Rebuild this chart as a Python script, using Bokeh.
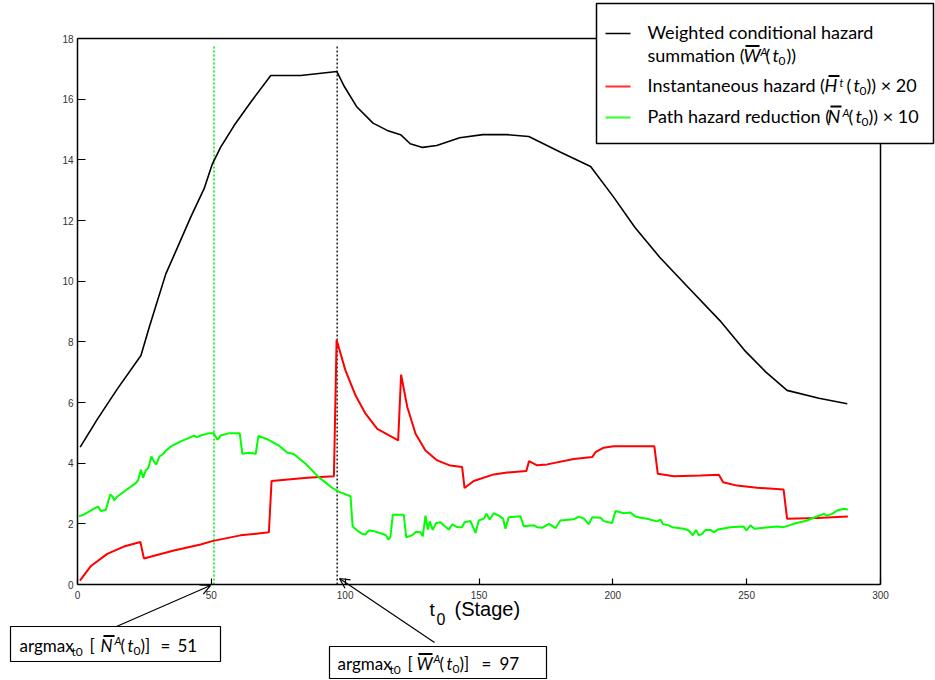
from bokeh.plotting import figure
from bokeh.models import Range1d, FixedTicker, Label, BoxAnnotation, Arrow, OpenHead, LinearAxis
from bokeh.embed import file_html
from bokeh.resources import INLINE

# ---------------- data ----------------
x_ticks = [0, 50, 100, 150, 200, 250, 300]
y_ticks = [0, 2, 4, 6, 8, 10, 12, 14, 16, 18]

# Weighted conditional hazard summation W^A(t0)
w_stage = [1, 7.5, 14.9, 23.7, 26.8, 29.9, 33, 37.4, 42.3, 47.3, 50.4, 53.5, 58.5, 64.7,
           72.2, 83.4, 96.9, 99.8, 104.4, 110.4, 115.7, 120.7, 124.3, 128.9, 134.2,
           142.8, 151.4, 160.6, 168.6, 180.5, 191.7, 200.3, 208.2, 217.5, 228.1, 240,
           249.2, 257.2, 265.1, 277, 287.6]
w_value = [4.53, 5.46, 6.45, 7.55, 8.48, 9.36, 10.24, 11.12, 12.11, 13.05, 13.87, 14.42,
           15.13, 15.9, 16.78, 16.78, 16.91, 16.4, 15.74, 15.21, 14.97, 14.83, 14.53,
           14.41, 14.47, 14.73, 14.83, 14.83, 14.77, 14.25, 13.78, 12.77, 11.78, 10.79,
           9.8, 8.7, 7.72, 7.0, 6.4, 6.14, 5.96]

# Instantaneous hazard H^t(t0) x 20
h_stage = [0.9, 4.9, 11.1, 17.3, 23.5, 24.8, 36, 46, 50.3, 60.9, 71.5, 72.5, 85.8, 95.8,
           96.8, 97.6, 100.1, 103.9, 107.6, 112, 119.8, 120.9, 123.2, 126.3, 130, 134.4,
           139.3, 143.7, 144.6, 148, 155.5, 160.5, 167.7, 168.7, 171.7, 175.5, 185.4,
           192.3, 193.5, 196.6, 200.3, 215.5, 216.8, 222.8, 232.7, 239.6, 241.2, 246.4,
           253.9, 263.8, 265.1, 276.3, 287.8]
h_value = [0.13, 0.6, 1.01, 1.25, 1.4, 0.86, 1.12, 1.32, 1.43, 1.62, 1.72, 3.41, 3.52,
           3.57, 8.07, 7.82, 7.06, 6.23, 5.63, 5.13, 4.75, 6.92, 5.85, 4.97, 4.42, 4.09,
           3.92, 3.87, 3.18, 3.41, 3.63, 3.69, 3.74, 4.07, 3.93, 3.96, 4.14, 4.2, 4.36,
           4.51, 4.56, 4.56, 3.65, 3.57, 3.59, 3.62, 3.37, 3.26, 3.19, 3.13, 2.17, 2.19,
           2.24]

# Path hazard reduction N^A(t0) x 10
n_stage = [0.6, 2.5, 5, 7.7, 8.7, 10.6, 12.2, 13.1, 13.7, 14.9, 18.7, 21.8, 22.7, 23.7,
           24.5, 25.5, 26.4, 27.6, 28.4, 29.4, 30.6, 32.1, 33.1, 34.9, 38.6, 43.6, 44.6,
           46.3, 49.2, 50.8, 52.3, 53.5, 56.7, 60.6, 61.6, 64.1, 66.6, 67.6, 71.2, 75.2,
           78.3, 80.8, 85.2, 90.1, 95.1, 97.6, 102, 102.8, 104.5, 106.3, 107.6, 108.8,
           110.7, 113.2, 115.3, 116.1, 116.9, 117.8, 121.9, 122.8, 125, 126.5, 128.1,
           129, 130, 130.9, 131.6, 132.7, 134, 135.6, 136.8, 138.7, 140, 141.9, 143.7,
           144.6, 146.8, 148.7, 149.9, 151.8, 152.8, 154, 155.5, 157.4, 159, 159.9,
           161.1, 165.5, 166.7, 170.5, 171.7, 173.6, 176.1, 178.6, 180.4, 185.4, 187.3,
           189.2, 191, 192.3, 195.4, 196.6, 199.7, 201, 204.1, 206.6, 208.4, 210.3,
           212.8, 216.5, 217.8, 218.7, 220.9, 222.2, 226.5, 228.4, 229.9, 231.1, 232.1,
           233.4, 234.6, 236.5, 237.7, 239.2, 240.8, 243.9, 248.9, 249.9, 251.4, 252.9,
           256.4, 261.4, 263.8, 267.6, 272.6, 275, 278.8, 280, 281.9, 283.8, 286.3, 287.8]
n_value = [2.25, 2.31, 2.44, 2.57, 2.42, 2.46, 2.97, 2.9, 2.77, 2.9, 3.15, 3.34, 3.45,
           3.78, 3.52, 3.76, 3.83, 4.22, 4.09, 3.95, 4.22, 4.31, 4.42, 4.55, 4.72, 4.91,
           4.86, 4.92, 4.99, 4.99, 4.77, 4.91, 4.99, 4.99, 4.31, 4.34, 4.31, 4.9, 4.78,
           4.58, 4.35, 4.3, 3.98, 3.54, 3.19, 3.06, 2.91, 1.91, 1.78, 1.67, 1.65, 1.78,
           1.76, 1.69, 1.62, 1.48, 1.56, 2.3, 2.3, 1.56, 1.62, 1.74, 1.72, 1.59, 2.27,
           1.81, 2.08, 1.8, 2.03, 2.05, 1.95, 1.81, 1.98, 1.89, 1.89, 2.05, 2.09, 1.7,
           2.11, 2.17, 2.33, 2.14, 2.35, 2.27, 2.17, 1.84, 2.22, 2.25, 1.92, 1.95, 1.89,
           1.87, 2.0, 1.86, 2.11, 2.15, 2.24, 2.17, 1.98, 2.22, 2.2, 2.09, 2.03, 2.42,
           2.35, 2.37, 2.24, 2.2, 2.17, 2.08, 2.14, 1.99, 1.95, 1.89, 1.84, 1.78, 1.62,
           1.8, 1.62, 1.67, 1.8, 1.8, 1.72, 1.81, 1.84, 1.89, 1.91, 1.78, 1.95, 1.84,
           1.87, 1.91, 1.89, 2.0, 2.11, 2.2, 2.33, 2.27, 2.33, 2.44, 2.5, 2.47]

argmax_n = 51
argmax_w = 97
marker_top = 17.8

X_MIN, X_MAX = 0, 300
Y_MIN, Y_MAX = 0, 18

# ---------------- geometry ----------------
W, H = 935, 680
AL, AR, AT, AB = 77, 880, 38, 584          # axes box in page pixels
ppx = (AR - AL) / (X_MAX - X_MIN)
ppy = (AB - AT) / (Y_MAX - Y_MIN)

p = figure(width=W, height=H, output_backend="svg", toolbar_location=None,
           x_range=Range1d(X_MIN - AL / ppx, X_MAX + (W - AR) / ppx),
           y_range=Range1d(Y_MIN - (H - AB) / ppy, Y_MAX + AT / ppy),
           min_border=0, min_border_left=0, min_border_right=0,
           min_border_top=0, min_border_bottom=0)
p.grid.visible = False
p.outline_line_color = None
p.background_fill_color = "white"
p.border_fill_color = "white"

xa = p.xaxis[0]
xa.fixed_location = Y_MIN
xa.bounds = (X_MIN, X_MAX)
xa.ticker = FixedTicker(ticks=x_ticks)
xa.major_tick_in = 6
xa.major_tick_out = 0
xa.major_label_standoff = 6
ya = p.yaxis[0]
ya.fixed_location = X_MIN
ya.bounds = (Y_MIN, Y_MAX)
ya.ticker = FixedTicker(ticks=y_ticks)
ya.major_tick_in = 8
ya.major_tick_out = 0
ya.major_label_standoff = 4
for ax in (xa, ya):
    ax.minor_tick_line_color = None
    ax.axis_line_width = 1.5
    ax.axis_line_color = "black"
    ax.major_tick_line_color = "black"
    ax.major_tick_line_width = 1.2
    ax.major_label_text_font = "Liberation Sans"
    ax.major_label_text_font_size = "10px"
    ax.major_label_text_color = "#333333"

# top and right frame edges as plain axes
top_ax = LinearAxis(fixed_location=Y_MAX, bounds=(X_MIN, X_MAX), ticker=FixedTicker(ticks=[]),
                    major_label_text_color=None, major_tick_line_color=None,
                    minor_tick_line_color=None, axis_line_width=1.5, axis_line_color="black")
right_ax = LinearAxis(fixed_location=X_MAX, bounds=(Y_MIN, Y_MAX), ticker=FixedTicker(ticks=[]),
                      major_label_text_color=None, major_tick_line_color=None,
                      minor_tick_line_color=None, axis_line_width=1.5, axis_line_color="black")
p.add_layout(top_ax, "above")
p.add_layout(right_ax, "right")

# series
p.line([argmax_n, argmax_n], [Y_MIN, marker_top], color="#00e600", line_width=1.5, line_dash="2 2")
p.line([argmax_w, argmax_w], [Y_MIN, marker_top], color="black", line_width=1.3, line_dash="2 2")
p.line(w_stage, w_value, color="black", line_width=1.6)
p.line(h_stage, h_value, color="#ff0000", line_width=2)
p.line(n_stage, n_value, color="#00ff00", line_width=2)


# ---------------- helpers (page pixel -> screen units / data) ----------------
def sx(cx):
    return cx


def sy(cy):
    return H - cy


def dx(cx):
    return X_MIN + (cx - AL) / ppx


def dy(cy):
    return Y_MIN + (AB - cy) / ppy


BASE_FIX = 0.37   # label baseline correction (fraction of the font size)


def lab(text, cx, cy, size, italic=False, font="Lato", color="black"):
    p.add_layout(Label(x=sx(cx), y=sy(cy - BASE_FIX * size), x_units="screen", y_units="screen",
                       text=text, text_font=font, text_font_size=f"{size}px",
                       text_font_style="italic" if italic else "normal",
                       text_baseline="alphabetic", text_align="left",
                       text_color=color))


def box(l, t, r, b, fill="white", line="black", lw=1.5):
    p.add_layout(BoxAnnotation(left=sx(l), right=sx(r), top=sy(t), bottom=sy(b),
                               left_units="screen", right_units="screen",
                               top_units="screen", bottom_units="screen",
                               fill_color=fill, fill_alpha=1.0,
                               line_color=line, line_alpha=1.0, line_width=lw))


def bar(l, r, y, color="black", th=1.6):
    p.add_layout(BoxAnnotation(left=sx(l), right=sx(r), top=sy(y - th / 2), bottom=sy(y + th / 2),
                               left_units="screen", right_units="screen",
                               top_units="screen", bottom_units="screen",
                               fill_color=color, fill_alpha=1.0, line_color=None))


# ---------------- x axis title ----------------
lab("t", 429, 616, 19, font="Liberation Sans")
lab("0", 436, 624, 16, font="Liberation Sans")
lab("(Stage)", 454, 616, 20, font="Liberation Sans")

# ---------------- legend ----------------
box(596, 3, 933, 143)
bar(605, 630, 33, "black", 1.5)
bar(605, 630, 86, "#ff3030", 1.8)
bar(605, 630, 117, "#30ff30", 1.8)
LS = 18
lab("Weighted conditional hazard", 647, 38, LS)
lab("summation (", 647, 61, LS)
lab("W", 743, 61, LS, italic=True)
bar(745, 759, 45.5, "black", 2)
lab("A", 760, 55, 11, italic=True)
lab("(", 765, 61, LS)
lab("t", 772, 61, LS, italic=True)
lab("0", 778, 65, 12)
lab("))", 786, 61, LS)

lab("Instantaneous hazard (", 647, 91, LS)
lab("H", 824, 91, LS, italic=True)
bar(828, 839, 75.5, "black", 2)
lab("t", 839, 86, 11, italic=True)
lab("(", 846, 91, LS)
lab("t", 853, 91, LS, italic=True)
lab("0", 859, 95, 12)
lab(")) × 20", 866, 91, LS)

lab("Path hazard reduction (", 647, 122, LS)
lab("N", 827, 122, LS, italic=True)
bar(830, 841, 106, "black", 2)
lab("A", 842, 116, 11, italic=True)
lab("(", 848, 122, LS)
lab("t", 855, 122, LS, italic=True)
lab("0", 861, 126, 12)
lab(")) × 10", 868, 122, LS)

# ---------------- argmax annotations ----------------
BS = 17
box(10, 626, 220, 661, lw=1.2)
lab("argmax", 19, 651, BS)
lab("t0", 71, 655, 12)
lab("[", 89, 651, BS)
lab("N", 100, 651, BS, italic=True)
bar(103, 114, 635.5, "black", 2)
lab("A", 114, 644, 11, italic=True)
lab("(", 120, 651, BS)
lab("t", 127, 651, BS, italic=True)
lab("0", 133, 655, 12)
lab(")]", 140, 651, BS)
lab("=", 160, 651, BS)
lab("51", 177, 651, BS)

box(329, 646, 546, 678, lw=1.2)
lab("argmax", 337, 669, BS)
lab("t0", 389, 673, 12)
lab("[", 407, 669, BS)
lab("W", 416, 669, BS, italic=True)
bar(418, 432, 653.5, "black", 2)
lab("A", 433, 662, 11, italic=True)
lab("(", 439, 669, BS)
lab("t", 446, 669, BS, italic=True)
lab("0", 452, 673, 12)
lab(")]", 459, 669, BS)
lab("=", 481, 669, BS)
lab("97", 499, 669, BS)

# arrows from the boxes to the argmax stages
p.add_layout(Arrow(end=OpenHead(size=10, line_width=1.2), line_width=1.2,
                   x_start=dx(116), y_start=dy(626), x_end=dx(210), y_end=dy(585)))
p.add_layout(Arrow(end=OpenHead(size=10, line_width=1.2), line_width=1.2,
                   x_start=dx(434), y_start=dy(642), x_end=dx(339), y_end=dy(578)))

open("out.html", "w").write(file_html(p, INLINE))
